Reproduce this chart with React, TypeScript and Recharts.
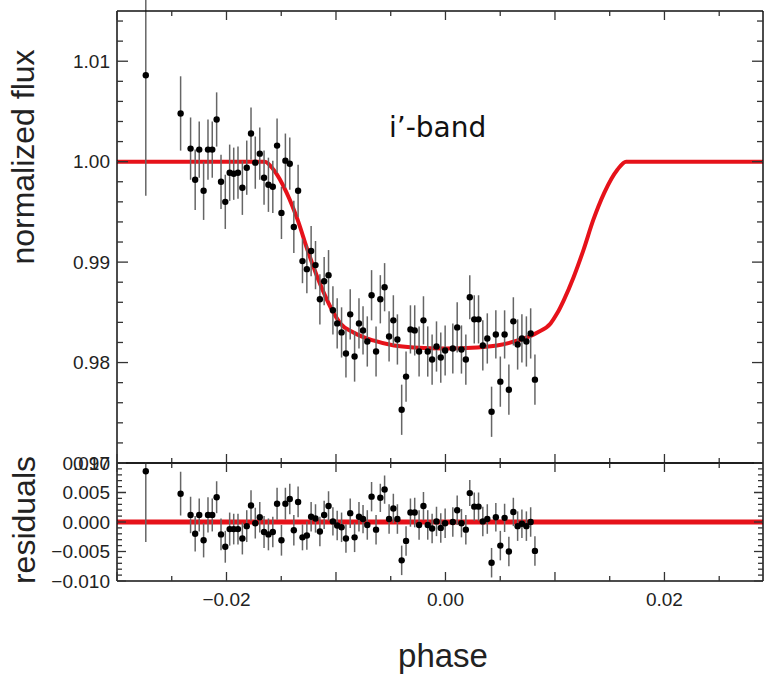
import React from 'react';
import { ComposedChart, Scatter, Line, XAxis, YAxis, ErrorBar, ReferenceLine } from 'recharts';

// observed points (phase, normalized flux, residual, 1-sigma error)
const phase = [
  -0.02737, -0.02419, -0.02328, -0.02286, -0.02249, -0.02209, -0.02169, -0.0213, -0.0209, -0.0205,
  -0.02011, -0.01971, -0.01934, -0.01895, -0.01855, -0.01815, -0.01776, -0.01737, -0.01696, -0.01657,
  -0.01617, -0.01577, -0.01538, -0.01498, -0.01462, -0.01422, -0.01385, -0.01346, -0.01306, -0.01266,
  -0.01227, -0.01187, -0.01147, -0.01108, -0.01068, -0.01028, -0.00989, -0.00949, -0.00909, -0.0087,
  -0.0083, -0.0079, -0.00753, -0.00714, -0.00675, -0.00634, -0.00595, -0.00556, -0.00515, -0.00476,
  -0.00439, -0.004, -0.0036, -0.0032, -0.00281, -0.00241, -0.00201, -0.00162, -0.00122, -0.00082,
  -0.00043, -0.00003, 0.00067, 0.00107, 0.00146, 0.00186, 0.00222, 0.00263, 0.00302, 0.00341,
  0.00382, 0.00421, 0.0046, 0.00501, 0.0054, 0.00579, 0.0062, 0.00659, 0.00698, 0.00739,
  0.00778, 0.00817,
];
const flux = [
  1.0086, 1.0048, 1.0013, 0.9982, 1.0012, 0.9971, 1.0012, 1.0012, 1.0042, 0.998,
  0.996, 0.9989, 0.9988, 0.9989, 0.9974, 0.9994, 1.0028, 0.9999, 1.0008, 0.9984,
  0.9977, 0.9975, 1.0016, 0.9949, 1.0001, 0.9998, 0.9935, 0.9971, 0.9901, 0.9893,
  0.9911, 0.9897, 0.9863, 0.9881, 0.9887, 0.9852, 0.9839, 0.983, 0.9809, 0.9848,
  0.9806, 0.9839, 0.9832, 0.9821, 0.9867, 0.9811, 0.9863, 0.9875, 0.9826, 0.9842,
  0.9823, 0.9753, 0.9786, 0.9833, 0.9832, 0.9811, 0.9842, 0.9811, 0.9803, 0.9816,
  0.9805, 0.9812, 0.9814, 0.9835, 0.9813, 0.9803, 0.9865, 0.9843, 0.9843, 0.9817,
  0.9824, 0.9751, 0.9828, 0.9781, 0.9828, 0.9773, 0.9841, 0.9818, 0.9824, 0.9821,
  0.9829, 0.9783,
];
const residual = [
  0.0086, 0.0048, 0.0012, -0.002, 0.0012, -0.0031, 0.0012, 0.0012, 0.0042, -0.0021,
  -0.0042, -0.0012, -0.0012, -0.0012, -0.0028, -0.0007, 0.0028, -0.0002, 0.0008, -0.0017,
  -0.0021, -0.0017, 0.0031, -0.0031, 0.0031, 0.0039, -0.0014, 0.0034, -0.0026, -0.0023,
  0.0009, 0.0006, -0.0016, 0.0012, 0.0027, 0.0001, -0.0006, -0.0009, -0.0028, 0.0015,
  -0.0026, 0.0009, 0.0005, -0.0005, 0.0043, -0.0013, 0.0041, 0.0055, 0.0005, 0.0023,
  0.0005, -0.0065, -0.0032, 0.0016, 0.0016, -0.0005, 0.0027, -0.0005, -0.0011, 0.0001,
  -0.001, -0.0002, 0.0, 0.002, -0.0002, -0.0013, 0.0049, 0.0026, 0.0026, 0.0001,
  0.0005, -0.0069, 0.0008, -0.004, 0.0007, -0.005, 0.0017, -0.0007, -0.0003, -0.0007,
  0.0, -0.0049,
];
const fluxErr = [
  0.012, 0.0037, 0.0031, 0.003, 0.0028, 0.0029, 0.003, 0.0028, 0.0027, 0.0027,
  0.0027, 0.0028, 0.0026, 0.0026, 0.0027, 0.0027, 0.0026, 0.0026, 0.0026, 0.0027,
  0.0027, 0.0026, 0.0027, 0.0026, 0.0027, 0.0026, 0.0026, 0.0026, 0.0022, 0.0024,
  0.0025, 0.0024, 0.0025, 0.0024, 0.0025, 0.0024, 0.0025, 0.0025, 0.0024, 0.0025,
  0.0025, 0.0025, 0.0024, 0.0025, 0.0025, 0.0025, 0.0024, 0.0024, 0.0025, 0.0025,
  0.0025, 0.0025, 0.0025, 0.0024, 0.0025, 0.0025, 0.0024, 0.0025, 0.0025, 0.0025,
  0.0025, 0.0025, 0.0025, 0.0025, 0.0024, 0.0025, 0.0022, 0.0024, 0.0024, 0.0025,
  0.0025, 0.0025, 0.0024, 0.0025, 0.0024, 0.0025, 0.0024, 0.0025, 0.0024, 0.0025,
  0.0025, 0.0025,
];

// fitted transit model
const modelPhase = [
  -0.03, -0.0165, -0.0157, -0.0145, -0.0135, -0.0126, -0.0117, -0.0108, -0.0102, -0.0096,
  -0.0084, -0.0066, -0.0047, -0.0029, 0.0, 0.0029, 0.0047, 0.0066, 0.0084, 0.0096,
  0.0102, 0.0108, 0.0117, 0.0126, 0.0135, 0.0145, 0.0157, 0.0165, 0.03,
];
const modelFlux = [
  1.0, 1.0, 0.9992, 0.9969, 0.9942, 0.9912, 0.9885, 0.9862, 0.9849, 0.9839,
  0.983, 0.9822, 0.9817, 0.9815, 0.9814, 0.9815, 0.9817, 0.9822, 0.983, 0.9839,
  0.9849, 0.9862, 0.9885, 0.9912, 0.9942, 0.9969, 0.9992, 1.0, 1.0,
];

// axes
const xTicks = [-0.03, -0.025, -0.02, -0.015, -0.01, -0.005, 0, 0.005, 0.01, 0.015, 0.02, 0.025];
const xMajor = [-0.03, -0.02, -0.01, 0, 0.01, 0.02];
const xLabelTicks = [-0.02, 0, 0.02];
const xLabels = ['\u22120.02', '0.00', '0.02'];

const fluxTicks = Array.from({ length: 23 }, (_, i) => +(0.97 + i * 0.002).toFixed(3));
const fluxLabelTicks = [0.97, 0.98, 0.99, 1.0, 1.01];
const fluxLabels = ['0.97', '0.98', '0.99', '1.00', '1.01'];

const resTicks = Array.from({ length: 21 }, (_, i) => +(-0.01 + i * 0.001).toFixed(3));
const resMajor = [-0.01, -0.005, 0, 0.005, 0.01];
const resLabels = ['\u22120.010', '\u22120.005', '0.000', '0.005', '0.010'];

const obsRows = phase.map((p, i) => ({ phase: p, flux: flux[i], err: fluxErr[i] }));
const resRows = phase.map((p, i) => ({ phase: p, res: residual[i], err: fluxErr[i] }));
const modelRows = modelPhase.map((p, i) => ({ phase: p, flux: modelFlux[i] }));

const FONT = '"Liberation Sans", Arial, sans-serif';
const RED = '#e6121a';
const X_DOMAIN: [number, number] = [-0.03, 0.029];

const near = (list: number[], v: number) => list.findIndex((m) => Math.abs(m - v) < 1e-9);

function makeTick(
  side: 'left' | 'right' | 'top' | 'bottom',
  majors: number[],
  labelTicks: number[],
  labels: string[],
  majorLen: number,
  minorLen: number
) {
  return (props: any) => {
    const { x, y, payload } = props;
    const v = payload.value;
    const len = near(majors, v) >= 0 ? majorLen : minorLen;
    const li = near(labelTicks, v);
    const label = li >= 0 ? labels[li] : null;
    let l = { x1: x, x2: x, y1: y, y2: y };
    if (side === 'left') l = { ...l, x2: x + len };
    if (side === 'right') l = { ...l, x2: x - len };
    if (side === 'top') l = { ...l, y2: y + len };
    if (side === 'bottom') l = { ...l, y2: y - len };
    return (
      <g>
        <line {...l} stroke="#333" strokeWidth={1.3} />
        {label && side === 'left' && (
          <text x={x - 7} y={y} dy="0.35em" textAnchor="end" fontSize={19} fontFamily={FONT} fill="#222">
            {label}
          </text>
        )}
        {label && side === 'bottom' && (
          <text x={x} y={y + 25} textAnchor="middle" fontSize={19} fontFamily={FONT} fill="#222">
            {label}
          </text>
        )}
      </g>
    );
  };
}

const dot = (p: any) => <circle cx={p.cx} cy={p.cy} r={3.2} fill="#000" />;
const axisLine = { stroke: '#111', strokeWidth: 1.5 };

export default function App() {
  return (
    <div style={{ position: 'absolute', left: 0, top: 0, width: 766, height: 676, background: '#fff' }}>
      {/* upper panel: light curve with the transit model */}
      <div style={{ position: 'absolute', left: 0, top: 0 }}>
        <ComposedChart width={766} height={480} margin={{ top: 10, right: 2, bottom: 0, left: 10 }}>
          <XAxis xAxisId="t" orientation="top" type="number" dataKey="phase" domain={X_DOMAIN} allowDataOverflow
            ticks={xTicks} interval={0} height={1} tickSize={0} tickMargin={0} tickLine={false} axisLine={axisLine}
            tick={makeTick('top', xMajor, [], [], 9, 5)} />
          <XAxis xAxisId="b" orientation="bottom" type="number" dataKey="phase" domain={X_DOMAIN} allowDataOverflow
            ticks={xTicks} interval={0} height={17} tickSize={0} tickMargin={0} tickLine={false} axisLine={axisLine}
            tick={makeTick('bottom', xMajor, [], [], 9, 5)} />
          <YAxis yAxisId="l" orientation="left" type="number" dataKey="flux" domain={[0.97, 1.015]} allowDataOverflow
            ticks={fluxTicks} interval={0} width={107} tickSize={0} tickMargin={0} tickLine={false} axisLine={axisLine}
            tick={makeTick('left', fluxLabelTicks, fluxLabelTicks, fluxLabels, 11, 6)} />
          <YAxis yAxisId="r" orientation="right" type="number" dataKey="flux" domain={[0.97, 1.015]} allowDataOverflow
            ticks={fluxTicks} interval={0} width={1} tickSize={0} tickMargin={0} tickLine={false} axisLine={axisLine}
            tick={makeTick('right', fluxLabelTicks, [], [], 11, 6)} />
          <Line xAxisId="b" yAxisId="l" data={modelRows} dataKey="flux" type="monotone" dot={false}
            stroke={RED} strokeWidth={4} isAnimationActive={false} />
          <Scatter xAxisId="b" yAxisId="l" data={obsRows} dataKey="flux" shape={dot} isAnimationActive={false}>
            <ErrorBar dataKey="err" direction="y" width={0} stroke="#666" strokeWidth={1.5} isAnimationActive={false} />
          </Scatter>
        </ComposedChart>
      </div>

      {/* lower panel: residuals; the plot area is clipped at its top edge, the tick labels are not */}
      <div
        style={{
          position: 'absolute',
          left: 0,
          top: 440,
          clipPath: 'polygon(0 0, 117px 0, 117px 22px, 766px 22px, 766px 236px, 0 236px)',
        }}
      >
        <ComposedChart width={766} height={236} margin={{ top: 22, right: 2, bottom: 0, left: 10 }}>
          <XAxis xAxisId="t" orientation="top" type="number" dataKey="phase" domain={X_DOMAIN} allowDataOverflow
            ticks={xTicks} interval={0} height={1} tickSize={0} tickMargin={0} tickLine={false} axisLine={axisLine}
            tick={makeTick('top', xMajor, [], [], 9, 5)} />
          <XAxis xAxisId="b" orientation="bottom" type="number" dataKey="phase" domain={X_DOMAIN} allowDataOverflow
            ticks={xTicks} interval={0} height={95} tickSize={0} tickMargin={0} tickLine={false} axisLine={axisLine}
            tick={makeTick('bottom', xMajor, xLabelTicks, xLabels, 9, 5)} />
          <YAxis yAxisId="l" orientation="left" type="number" dataKey="res" domain={[-0.01, 0.01]} allowDataOverflow
            ticks={resTicks} interval={0} width={107} tickSize={0} tickMargin={0} tickLine={false} axisLine={axisLine}
            tick={makeTick('left', resMajor, resMajor, resLabels, 9, 5)} />
          <YAxis yAxisId="r" orientation="right" type="number" dataKey="res" domain={[-0.01, 0.01]} allowDataOverflow
            ticks={resTicks} interval={0} width={1} tickSize={0} tickMargin={0} tickLine={false} axisLine={axisLine}
            tick={makeTick('right', resMajor, [], [], 9, 5)} />
          <ReferenceLine xAxisId="b" yAxisId="l" y={0} stroke={RED} strokeWidth={5} />
          <Scatter xAxisId="b" yAxisId="l" data={resRows} dataKey="res" shape={dot} isAnimationActive={false}>
            <ErrorBar dataKey="err" direction="y" width={0} stroke="#666" strokeWidth={1.5} isAnimationActive={false} />
          </Scatter>
        </ComposedChart>
      </div>

      <svg width={766} height={676} style={{ position: 'absolute', left: 0, top: 0, pointerEvents: 'none' }}>
        <text transform="translate(34,157) rotate(-90)" textAnchor="middle" fontSize={32} fontFamily={FONT} fill="#222">
          normalized flux
        </text>
        <text transform="translate(35,520) rotate(-90)" textAnchor="middle" fontSize={32} fontFamily={FONT} fill="#222">
          residuals
        </text>
        <text x={443} y={667} textAnchor="middle" fontSize={33} fontFamily={FONT} fill="#222">
          phase
        </text>
        <text x={389} y={137} fontSize={28} fontFamily='"DejaVu Sans", sans-serif' fill="#111">
          i’-band
        </text>
      </svg>
    </div>
  );
}
